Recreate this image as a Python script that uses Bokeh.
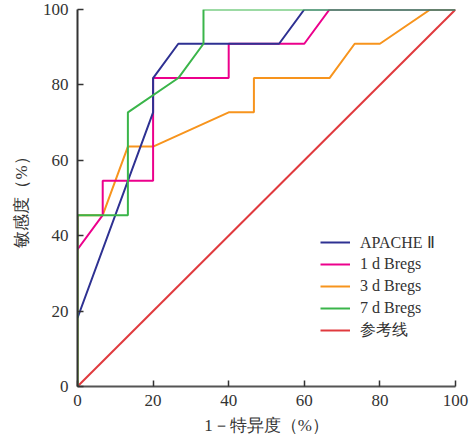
from bokeh.plotting import figure
from bokeh.models import Legend, LegendItem, FixedTicker, Range1d
from bokeh.embed import file_html
from bokeh.resources import INLINE

# ROC curves (x: 1-specificity %, y: sensitivity %)
apache_x = [0, 20, 20, 26.67, 53.33, 60, 100]
apache_y = [18.18, 72.73, 81.82, 90.91, 90.91, 100, 100]

b1_x = [0, 6.67, 6.67, 20, 20, 40, 40, 60, 66.67, 100]
b1_y = [36.36, 45.45, 54.55, 54.55, 81.82, 81.82, 90.91, 90.91, 100, 100]

b3_x = [0, 0, 6.67, 13.33, 20, 40, 46.67, 46.67, 66.67, 73.33, 80, 93.33, 100]
b3_y = [0, 45.45, 45.45, 63.64, 63.64, 72.73, 72.73, 81.82, 81.82, 90.91, 90.91, 100, 100]

b7_x = [0, 0, 13.33, 13.33, 26.67, 33.33, 33.33, 100]
b7_y = [0, 45.45, 45.45, 72.73, 81.82, 90.91, 100, 100]

ref_x = [0, 100]
ref_y = [0, 100]

labels = ["APACHE Ⅱ", "1 d Bregs", "3 d Bregs", "7 d Bregs", "参考线"]
colors = ["#2E3192", "#EC008C", "#F7941D", "#3AB54A", "#E03A3E"]
ticks = [0, 20, 40, 60, 80, 100]

SERIF = "Liberation Serif"

p = figure(width=475, height=438, output_backend="svg", toolbar_location=None,
           x_range=Range1d(0, 100), y_range=Range1d(0, 100),
           min_border_left=77, min_border_right=20, min_border_top=9, min_border_bottom=52)
p.outline_line_color = None
p.grid.visible = False
p.background_fill_color = "white"
p.border_fill_color = "white"

series = [(apache_x, apache_y), (b1_x, b1_y), (b3_x, b3_y), (b7_x, b7_y), (ref_x, ref_y)]
order = [4, 2, 1, 0, 3]
rmap = {}
for i in order:
    xs, ys = series[i]
    rmap[i] = p.line(xs, ys, line_color=colors[i], line_width=2)

for ax in (p.xaxis[0], p.yaxis[0]):
    ax.ticker = FixedTicker(ticks=ticks)
    ax.minor_tick_line_color = None
    ax.major_tick_in = 6
    ax.major_tick_out = 0
    ax.axis_line_color = "#333333"
    ax.axis_line_width = 2
    ax.major_tick_line_color = "#333333"
    ax.major_tick_line_width = 1.5
    ax.major_label_text_font = SERIF
    ax.major_label_text_font_size = "17px"
    ax.major_label_text_color = "#333333"
    ax.axis_label_text_font = SERIF
    ax.axis_label_text_font_size = "17px"
    ax.axis_label_text_font_style = "normal"
    ax.axis_label_text_color = "#333333"

p.xaxis[0].axis_line_color = "#555555"
p.xaxis[0].axis_label = "1－特异度（%）"
p.xaxis[0].major_label_standoff = 8
p.xaxis[0].axis_label_standoff = 7
p.yaxis[0].axis_label = "敏感度（%）"
p.yaxis[0].major_label_standoff = 9
p.yaxis[0].axis_label_standoff = 9

legend = Legend(items=[LegendItem(label=labels[i], renderers=[rmap[i]]) for i in range(5)],
                location=(243, 45), padding=0, margin=0, spacing=0,
                label_height=22, glyph_height=22, glyph_width=30, label_standoff=10,
                label_text_font=SERIF, label_text_font_size="16px", label_text_color="#333333",
                border_line_color=None, background_fill_alpha=0)
p.add_layout(legend)

open("out.html", "w").write(file_html(p, INLINE))
